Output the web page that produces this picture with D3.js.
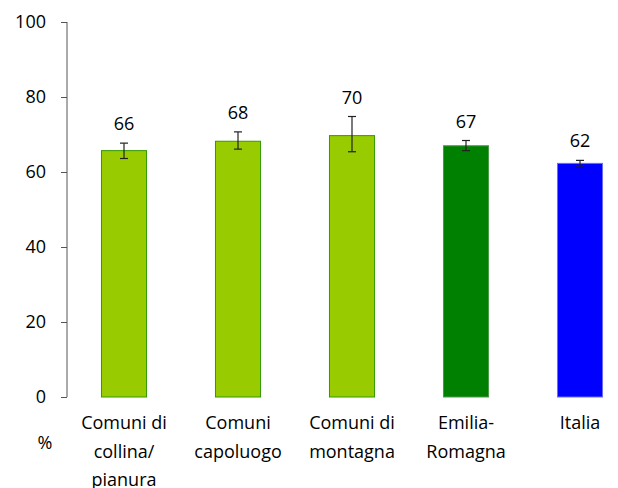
<!DOCTYPE html>
<html><head><meta charset="utf-8">
<script src="https://cdn.jsdelivr.net/npm/d3@7"></script>
<style>body{margin:0;background:#fff}svg{display:block}text{font-family:"Open Sans",Lato,sans-serif;fill:#000}</style>
</head><body>
<svg id="c" width="618" height="488"></svg>
<script>
const categories = [["Comuni di","collina/","pianura"],["Comuni","capoluogo"],["Comuni di","montagna"],["Emilia-","Romagna"],["Italia"]];
const values = [65.7, 68.2, 69.7, 67.0, 62.3];
const labels = ["66","68","70","67","62"];
const errLow = [63.6, 66.1, 65.4, 65.7, 61.6];
const errHigh = [67.7, 70.7, 74.8, 68.4, 63.1];
const fills = ["#99CC00","#99CC00","#99CC00","#008000","#0000FF"];
const strokes = ["#339900","#339900","#339900","#4a9a4a","#6b6bff"];
const yTicks = [0,20,40,60,80,100];

const FONT = "'Open Sans', Lato, sans-serif";
const FS = 18;
const svg = d3.select("#c");
const x = d3.scaleBand().domain(d3.range(values.length)).range([67,637]).paddingInner(0.596).paddingOuter(0.298);
const y = d3.scaleLinear().domain([0,100]).range([397,22]);

const yAxis = d3.axisLeft(y).tickValues(yTicks).tickSize(6).tickPadding(15);
const ga = svg.append("g").attr("transform","translate(67,0)").call(yAxis);
ga.select(".domain").attr("stroke","#555").attr("d","M0,22V397");
ga.selectAll(".tick line").attr("stroke","#555");
ga.selectAll(".tick text").attr("font-size",FS).attr("fill","#000").attr("font-family",FONT);

const g = svg.append("g");
g.selectAll("rect").data(values).join("rect")
  .attr("x",(d,i)=>x(i)+0.5).attr("width",x.bandwidth()-1)
  .attr("y",d=>y(d)).attr("height",d=>y(0)-y(d))
  .attr("fill",(d,i)=>fills[i]).attr("stroke",(d,i)=>strokes[i]).attr("stroke-width",1);

const eb = g.selectAll("g.eb").data(values).join("g").attr("class","eb")
  .attr("stroke","#222").attr("stroke-width",1.2);
eb.append("line").attr("x1",(d,i)=>x(i)+x.bandwidth()/2).attr("x2",(d,i)=>x(i)+x.bandwidth()/2)
  .attr("y1",(d,i)=>y(errLow[i])).attr("y2",(d,i)=>y(errHigh[i]));
eb.append("line").attr("x1",(d,i)=>x(i)+x.bandwidth()/2-4).attr("x2",(d,i)=>x(i)+x.bandwidth()/2+4)
  .attr("y1",(d,i)=>y(errLow[i])).attr("y2",(d,i)=>y(errLow[i]));
eb.append("line").attr("x1",(d,i)=>x(i)+x.bandwidth()/2-4).attr("x2",(d,i)=>x(i)+x.bandwidth()/2+4)
  .attr("y1",(d,i)=>y(errHigh[i])).attr("y2",(d,i)=>y(errHigh[i]));

g.selectAll("text.val").data(labels).join("text").attr("class","val")
  .attr("x",(d,i)=>x(i)+x.bandwidth()/2).attr("y",(d,i)=>y(errHigh[i])-13)
  .attr("text-anchor","middle").attr("font-size",FS).text(d=>d);

const cl = g.selectAll("text.cat").data(categories).join("text").attr("class","cat")
  .attr("text-anchor","middle").attr("font-size",FS)
  .attr("transform",(d,i)=>`translate(${x(i)+x.bandwidth()/2},429)`);
cl.selectAll("tspan").data(d=>d).join("tspan").attr("x",0).attr("dy",(d,j)=>j?28.5:0).text(d=>d);

svg.append("text").attr("x",45).attr("y",449).attr("text-anchor","middle").attr("font-size",FS).text("%");
</script>
</body></html>
